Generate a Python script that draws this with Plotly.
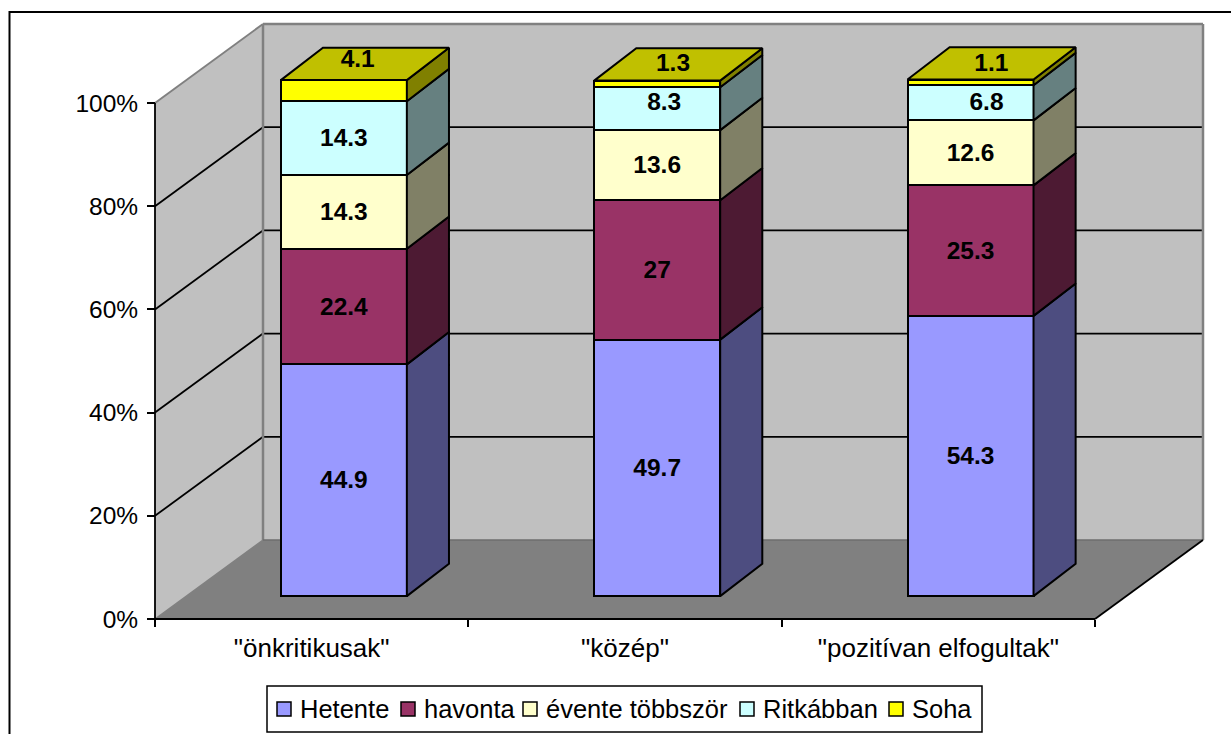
import plotly.graph_objects as go

categories = ['"önkritikusak"', '"közép"', '"pozitívan elfogultak"']
hetente = [44.9, 49.7, 54.3]
havonta = [22.4, 27, 25.3]
evente = [14.3, 13.6, 12.6]
ritkabban = [14.3, 8.3, 6.8]
soha = [4.1, 1.3, 1.1]
series_names = ["Hetente", "havonta", "évente többször", "Ritkábban", "Soha"]
y_ticks = [0, 20, 40, 60, 80, 100]

front_colors = ["#9999FF", "#993366", "#FFFFCC", "#CCFFFF", "#FFFF00"]
side_colors = ["#4D4D80", "#4D1A33", "#808066", "#668080", "#808000"]
top_color = "#C0C000"

W, H = 1231, 734
X0, Y0 = 155, 619
PX_X = (1095 - 155) / 3
PX_Y = (619 - 103) / 100
DX, DY = 108 / PX_X, 79 / PX_Y   # full floor depth in data units
FRONT = (0.298, 0.29)            # depth of the bars' front plane (x, y)
BACK = (0.688, 0.70)             # depth of the bars' back plane (x, y)
BAR_W = 126 / PX_X


def proj(x, y, d):
    dx, dy = d if isinstance(d, tuple) else (d, d)
    return x + dx * DX, y + dy * DY


series = [hetente, havonta, evente, ritkabban, soha]
n = len(categories)
centers = [i + 0.5 for i in range(n)]

fig = go.Figure()
stack = [0.0] * n
bounds = []
for s, vals in enumerate(series):
    bases = list(stack)
    bounds.append(bases)
    fig.add_bar(
        x=[proj(c, 0, FRONT)[0] for c in centers],
        y=vals,
        base=[proj(0, b, FRONT)[1] for b in bases],
        width=BAR_W,
        name=series_names[s],
        marker=dict(color=front_colors[s], line=dict(color="black", width=2)),
        hoverinfo="skip",
        showlegend=False,
    )
    stack = [b + v for b, v in zip(stack, vals)]


def face(pts, color):
    xs = [p[0] for p in pts] + [pts[0][0]]
    ys = [p[1] for p in pts] + [pts[0][1]]
    fig.add_scatter(x=xs, y=ys, mode="lines", fill="toself", fillcolor=color,
                    line=dict(color="black", width=2), showlegend=False, hoverinfo="skip")


for s, vals in enumerate(series):
    for i, c in enumerate(centers):
        r = c + BAR_W / 2
        lo, hi = bounds[s][i], bounds[s][i] + vals[i]
        face([proj(r, lo, FRONT), proj(r, lo, BACK), proj(r, hi, BACK), proj(r, hi, FRONT)],
             side_colors[s])
for i, c in enumerate(centers):
    l, r = c - BAR_W / 2, c + BAR_W / 2
    face([proj(l, stack[i], FRONT), proj(r, stack[i], FRONT),
          proj(r, stack[i], BACK), proj(l, stack[i], BACK)], top_color)

# data labels: segment centre, with a pixel nudge where the original label sits off-centre
TEXT_DROP = 2
nudges = {(3, 1): (7, -7), (3, 2): (16, -1), (4, 0): (-8, -5), (4, 1): (-6, -1), (4, 2): (-1, 0)}
lx, ly, lt = [], [], []
for s, vals in enumerate(series):
    for i, c in enumerate(centers):
        nx, ny = nudges.get((s, i), (0, 0))
        if s == 4:
            px, py = proj(c, stack[i], 0.5)
        else:
            px, py = proj(c, bounds[s][i] + vals[i] / 2, FRONT)
        lx.append(px + nx / PX_X)
        ly.append(py - (ny + TEXT_DROP) / PX_Y)
        lt.append(str(vals[i]))
fig.add_scatter(x=lx, y=ly, mode="text", text=lt, textposition="middle center",
                textfont=dict(family="Liberation Sans", size=24.5, color="black", weight="bold"),
                showlegend=False, hoverinfo="skip")

shapes = []


def poly(pts, fill, layer="below"):
    path = "M" + " L".join(f"{x},{y}" for x, y in pts) + " Z"
    shapes.append(dict(type="path", path=path, xref="x", yref="y", fillcolor=fill,
                       line=dict(width=0), layer=layer))


def seg(a, b, color, width, layer="below"):
    shapes.append(dict(type="line", xref="x", yref="y", x0=a[0], y0=a[1], x1=b[0], y1=b[1],
                       line=dict(color=color, width=width), layer=layer))


GRAY = "#808080"
poly([proj(0, 0, 0), proj(0, 100, 0), proj(0, 100, 1), proj(0, 0, 1)], "#C0C0C0")
poly([proj(0, 0, 1), proj(0, 100, 1), proj(n, 100, 1), proj(n, 0, 1)], "#C0C0C0")
poly([proj(0, 0, 0), proj(0, 0, 1), proj(n, 0, 1), proj(n, 0, 0)], GRAY)
for t in y_ticks[1:-1]:
    seg(proj(0, t, 0), proj(0, t, 1), "black", 1.8)
    seg(proj(0, t, 1), proj(n, t, 1), "black", 1.8)
seg(proj(0, 100, 0), proj(0, 100, 1), GRAY, 2)
seg(proj(0, 100, 1), proj(n, 100, 1), GRAY, 2.5)
seg(proj(0, 0, 1), proj(0, 100, 1), GRAY, 2.5)
seg(proj(n, 0, 1), proj(n, 100, 1), GRAY, 2.5)
seg(proj(0, 0, 0), proj(0, 0, 1), GRAY, 1.5)
seg(proj(0, 0, 1), proj(n, 0, 1), "#6E6E6E", 1.5)
seg(proj(n, 0, 0), proj(n, 0, 1), "black", 1.8)
seg(proj(0, 0, 0), proj(0, 100, 0), "black", 1.8)
seg(proj(0, 0, 0), proj(n, 0, 0), "black", 2)
# chart frame, running off the right and bottom of the picture
shapes.append(dict(type="rect", xref="paper", yref="paper", x0=9.5 / W, x1=1.05, y0=-0.05, y1=1 - 12 / H,
                   line=dict(color="black", width=2), fillcolor="rgba(0,0,0,0)", layer="below"))

# legend box with tightly spaced entries
LEG_FONT = dict(family="Liberation Sans", size=25.5, color="black")
LEG_Y = 709
swatch_left = [277, 401, 523, 740, 889]
text_left = [299, 423, 545, 762, 911]
shapes.append(dict(type="rect", xref="paper", yref="paper", x0=267 / W, x1=982 / W,
                   y0=1 - 732 / H, y1=1 - 686 / H,
                   line=dict(color="black", width=1.5), fillcolor="white", layer="above"))
annotations = []
for s, name in enumerate(series_names):
    shapes.append(dict(type="rect", xref="paper", yref="paper",
                       x0=swatch_left[s] / W, x1=(swatch_left[s] + 14) / W,
                       y0=1 - (LEG_Y + 7) / H, y1=1 - (LEG_Y - 7) / H,
                       line=dict(color="black", width=1.5), fillcolor=front_colors[s], layer="above"))
    annotations.append(dict(xref="paper", yref="paper", x=text_left[s] / W, y=1 - LEG_Y / H,
                            xanchor="left", yanchor="middle", text=name, showarrow=False,
                            font=LEG_FONT, borderpad=0))

fig.update_layout(
    width=W, height=H, margin=dict(l=0, r=0, t=0, b=0),
    paper_bgcolor="white", plot_bgcolor="white", barmode="overlay",
    shapes=shapes, annotations=annotations, showlegend=False,
    bargap=0,
    xaxis=dict(
        range=[-X0 / PX_X, (W - X0) / PX_X], anchor="free", position=(H - Y0) / H,
        showgrid=False, zeroline=False, showline=False,
        tickmode="array", tickvals=centers, ticktext=categories, ticks="",
        ticklabelstandoff=11, tickfont=dict(family="Liberation Sans", size=26, color="black"),
        minor=dict(tickmode="array", tickvals=list(range(n + 1)), ticks="outside",
                   ticklen=7, tickwidth=1.5, tickcolor="black", showgrid=False),
    ),
    yaxis=dict(
        range=[(Y0 - H) / PX_Y, Y0 / PX_Y], anchor="free", position=X0 / W,
        showgrid=False, zeroline=False, showline=False,
        tickmode="array", tickvals=y_ticks, ticktext=[f"{t}%" for t in y_ticks],
        ticks="outside", ticklen=8, tickwidth=1.5, tickcolor="black",
        ticklabelstandoff=4, tickfont=dict(family="Liberation Sans", size=24.5, color="black"),
    ),
)
fig.write_html("out.html", post_script="document.body.style.margin='0';",
               config={"displayModeBar": False})
